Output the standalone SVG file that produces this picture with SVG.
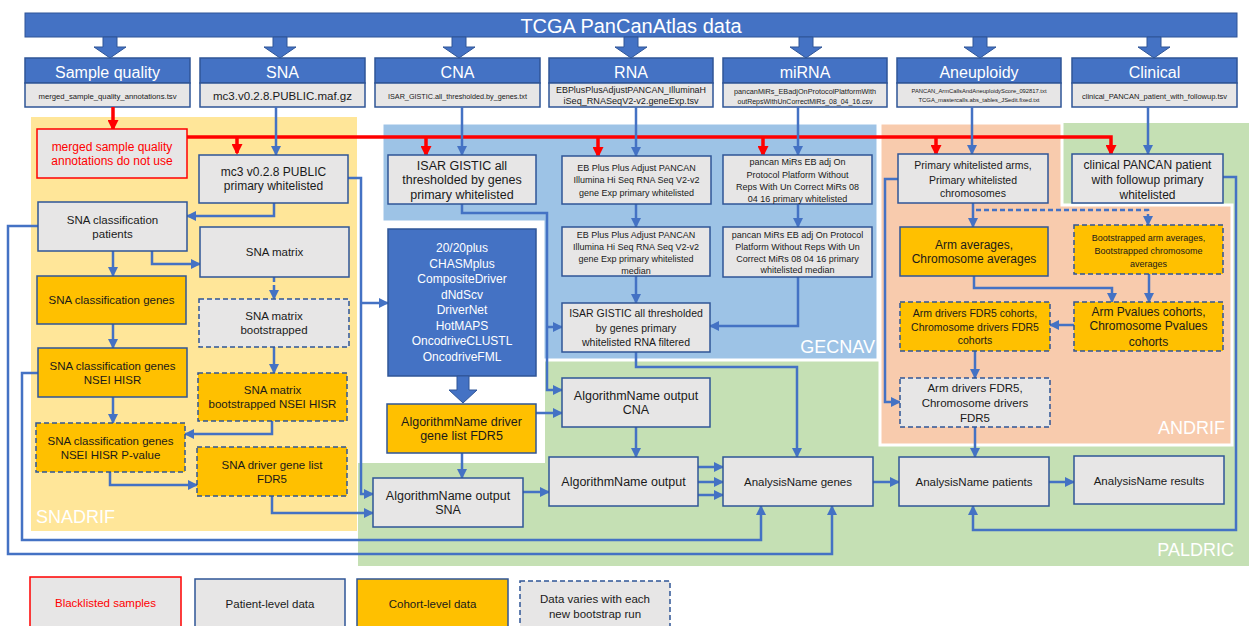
<svg xmlns="http://www.w3.org/2000/svg" width="1251" height="626" viewBox="0 0 1251 626">
<defs>
<style>
text{font-family:"Liberation Sans",Arial,sans-serif;text-anchor:middle;fill:#1a1a1a;font-size:12px}
.box{fill:#E7E6E6;stroke:#2F5597;stroke-width:1.5}
.org{fill:#FFC000;stroke:#2F5597;stroke-width:1.5}
.dash{stroke-dasharray:5,3}
.redb{fill:#E7E6E6;stroke:#FF0000;stroke-width:1.5}
.hdr{fill:#4472C4;stroke:#2F5597;stroke-width:1.5}
.c{fill:none;stroke:#4472C4;stroke-width:2.5;marker-end:url(#ab)}
.cn{fill:none;stroke:#4472C4;stroke-width:2.5}
.cr{fill:none;stroke:#FF0000;stroke-width:3.5}
.crm{fill:none;stroke:#FF0000;stroke-width:3.5;marker-end:url(#ar)}
.ht{fill:#fff;font-size:16px}
.rl{fill:#fff;font-size:18px;text-anchor:end}
.wt{fill:#fff;font-size:12px}
.rt{fill:#FF0000}
.f{font-size:7.5px;lengthAdjust:spacingAndGlyphs}
.s9{font-size:9px}
.s105{font-size:10.5px}
.s115{font-size:11.5px}
.s125{font-size:12.5px}
</style>
<marker id="ab" markerUnits="userSpaceOnUse" markerWidth="10" markerHeight="10" refX="9" refY="5" orient="auto" viewBox="0 0 10 10"><path d="M0,0 L10,5 L0,10 z" fill="#4472C4"/></marker>
<marker id="ar" markerUnits="userSpaceOnUse" markerWidth="11" markerHeight="11" refX="9" refY="5.5" orient="auto" viewBox="0 0 11 11"><path d="M0,0 L11,5.5 L0,11 z" fill="#FF0000"/></marker>
<path id="barrow" d="M-7,37 H7 V47 H16 L0,58 L-16,47 H-7 Z" fill="#4472C4" stroke="#2F5597" stroke-width="1"/>
</defs>
<rect width="1251" height="626" fill="#fff"/>

<g id="regions">
<rect id="snadrif" x="31" y="117" width="326" height="414" fill="#FFE699"/>
<rect id="paldric" x="358" y="123" width="891" height="443" fill="#C5E0B4"/>
<rect x="357" y="115" width="188" height="348" fill="#fff"/>
<path id="gecnav" d="M382,123 H878 V360 H543 V222 H382 Z" fill="#9DC3E6" stroke="#fff" stroke-width="3"/>
<path id="andrif" d="M880,123 H1062 V205 H1232 V445 H880 Z" fill="#F8CBAD" stroke="#fff" stroke-width="3"/>
<text class="rl" x="36" y="523" style="text-anchor:start">SNADRIF</text>
<text class="rl" x="875" y="353">GECNAV</text>
<text class="rl" x="1225" y="434">ANDRIF</text>
<text class="rl" x="1234" y="556">PALDRIC</text>
</g>

<g id="banner">
<rect x="25" y="13" width="1212" height="24" fill="#4472C4" stroke="#2F5597" stroke-width="1"/>
<text x="631" y="33" style="fill:#fff;font-size:20px">TCGA PanCanAtlas data</text>
<use href="#barrow" x="110"/>
<use href="#barrow" x="280"/>
<use href="#barrow" x="459"/>
<use href="#barrow" x="631"/>
<use href="#barrow" x="806"/>
<use href="#barrow" x="980"/>
<use href="#barrow" x="1154"/>
</g>

<g id="h_sample_quality">
<rect class="hdr" x="25" y="58" width="165" height="25"/>
<text class="ht" x="107.5" y="78">Sample quality</text>
<rect class="box" x="25" y="83" width="165" height="24"/>
<text class="f" x="107.5" y="99" textLength="138" lengthAdjust="spacingAndGlyphs">merged_sample_quality_annotations.tsv</text>
</g>
<g id="h_sna">
<rect class="hdr" x="200" y="58" width="165" height="25"/>
<text class="ht" x="282.5" y="78">SNA</text>
<rect class="box" x="200" y="83" width="165" height="24"/>
<text x="282.5" y="100" style="font-size:11.5px" textLength="139" lengthAdjust="spacingAndGlyphs">mc3.v0.2.8.PUBLIC.maf.gz</text>
</g>
<g id="h_cna">
<rect class="hdr" x="375" y="58" width="165" height="25"/>
<text class="ht" x="457.5" y="78">CNA</text>
<rect class="box" x="375" y="83" width="165" height="24"/>
<text class="f" x="457.5" y="99" textLength="139" lengthAdjust="spacingAndGlyphs">ISAR_GISTIC.all_thresholded.by_genes.txt</text>
</g>
<g id="h_rna">
<rect class="hdr" x="549" y="58" width="164" height="25"/>
<text class="ht" x="631" y="78">RNA</text>
<rect class="box" x="549" y="83" width="164" height="24"/>
<text x="631" y="93" style="font-size:9px" textLength="150" lengthAdjust="spacingAndGlyphs">EBPlusPlusAdjustPANCAN_IlluminaH</text>
<text x="631" y="103.5" style="font-size:9px" textLength="135" lengthAdjust="spacingAndGlyphs">iSeq_RNASeqV2-v2.geneExp.tsv</text>
</g>
<g id="h_mirna">
<rect class="hdr" x="723" y="58" width="164" height="25"/>
<text class="ht" x="805" y="78">miRNA</text>
<rect class="box" x="723" y="83" width="164" height="24"/>
<text class="f" x="805" y="93.5" textLength="142" lengthAdjust="spacingAndGlyphs">pancanMiRs_EBadjOnProtocolPlatformWith</text>
<text class="f" x="805" y="103.5" textLength="135" lengthAdjust="spacingAndGlyphs">outRepsWithUnCorrectMiRs_08_04_16.csv</text>
</g>
<g id="h_aneuploidy">
<rect class="hdr" x="897" y="58" width="164" height="25"/>
<text class="ht" x="979" y="78">Aneuploidy</text>
<rect class="box" x="897" y="83" width="164" height="24"/>
<text x="979" y="93" style="font-size:6px" textLength="135" lengthAdjust="spacingAndGlyphs">PANCAN_ArmCallsAndAneuploidyScore_092817.txt</text>
<text x="979" y="101.5" style="font-size:6px" textLength="121" lengthAdjust="spacingAndGlyphs">TCGA_mastercalls.abs_tables_JSedit.fixed.txt</text>
</g>
<g id="h_clinical">
<rect class="hdr" x="1072" y="58" width="165" height="25"/>
<text class="ht" x="1154.5" y="78">Clinical</text>
<rect class="box" x="1072" y="83" width="165" height="24"/>
<text x="1154.5" y="99" style="font-size:8px" textLength="145" lengthAdjust="spacingAndGlyphs">clinical_PANCAN_patient_with_followup.tsv</text>
</g>

<g id="connectors">
<path class="crm" d="M113,107 V129"/>
<path class="crm" d="M187,137 H1111 V154"/>
<path class="crm" d="M237,137 V153"/>
<path class="crm" d="M426,137 V155"/>
<path class="crm" d="M598,137 V156"/>
<path class="crm" d="M763,137 V155"/>
<path class="crm" d="M936,137 V154"/>
<path class="c" d="M276,107 V155"/>
<path class="c" d="M462,107 V155"/>
<path class="c" d="M636,107 V156"/>
<path class="c" d="M798,107 V155"/>
<path class="c" d="M972,107 V154"/>
<path class="c" d="M1148,107 V154"/>
<path class="c" d="M274,203 V216 H187"/>
<path class="c" d="M152,251 V264 H200"/>
<path class="c" d="M113,251 V276"/>
<path class="c dash" d="M274,277 V299" style="stroke-dasharray:5,3"/>
<path class="c" d="M113,324 V348"/>
<path class="c" d="M274,347 V373"/>
<path class="c" d="M113,397 V423"/>
<path class="c" d="M272,421 V434 H185"/>
<path class="c" d="M110,472 V485 H197"/>
<path class="c" d="M272,496 V513 H373"/>
<path class="c" d="M348,178 H361 V494 H373"/>
<path class="c" d="M361,303 H388"/>
<path class="c" d="M38,226 H8 V554 H832 V506"/>
<path class="c" d="M38,373 H22 V540 H761 V506"/>
<path class="c" d="M462,453 V478"/>
<path class="c" d="M536,413 H562"/>
<path class="c" d="M462,204 V213 H547 V390 H562"/>
<path class="c" d="M547,327 H562"/>
<path class="c" d="M636,204 V227"/>
<path class="c" d="M636,276 V303"/>
<path class="c" d="M798,204 V227"/>
<path class="c" d="M798,277 V326 H710"/>
<path class="c" d="M636,352 V367 H797 V457"/>
<path class="c" d="M636,427 V457"/>
<path class="c" d="M523,492 H549"/>
<path class="c" d="M698,467 H723"/>
<path class="c" d="M698,482 H723"/>
<path class="c" d="M698,495 H723"/>
<path class="c" d="M873,482 H899"/>
<path class="c" d="M1049,482 H1074"/>
<path class="c" d="M973,203 V227"/>
<path class="c" d="M976,210 H1148 V225" style="stroke-dasharray:5,3"/>
<path class="c" d="M974,276 V288 H1112 V302"/>
<path class="c" d="M1149,274 V302"/>
<path class="c" d="M1074,325 H1050"/>
<path class="c" d="M975,351 V378"/>
<path class="c" d="M898,179 H885 V402 H900"/>
<path class="c" d="M975,427 V457"/>
<path class="c" d="M1223,177 H1236 V530 H973 V506"/>
</g>

<g id="n_blacklist">
<rect class="redb" x="37" y="129" width="150" height="49"/>
<text class="rt" x="112" y="150.5">merged sample quality</text>
<text class="rt" x="112" y="164.5">annotations do not use</text>
</g>
<g id="n_mc3">
<rect class="box" x="199" y="155" width="149" height="48"/>
<text x="273.5" y="176">mc3 v0.2.8 PUBLIC</text>
<text x="273.5" y="190">primary whitelisted</text>
</g>
<g id="n_sna_class_patients">
<rect class="box" x="38" y="202" width="149" height="49"/>
<text class="s115" x="112.5" y="223.5">SNA classification</text>
<text class="s115" x="112.5" y="237.5">patients</text>
</g>
<g id="n_sna_matrix">
<rect class="box" x="200" y="227" width="149" height="50"/>
<text class="s115" x="274.5" y="256">SNA matrix</text>
</g>
<g id="n_sna_class_genes">
<rect class="org" x="37" y="276" width="149" height="48"/>
<text class="s115" x="111.5" y="304">SNA classification genes</text>
</g>
<g id="n_sna_matrix_boot">
<rect class="box dash" x="199" y="299" width="150" height="48"/>
<text class="s115" x="274" y="320">SNA matrix</text>
<text class="s115" x="274" y="334">bootstrapped</text>
</g>
<g id="n_sna_class_nsei">
<rect class="org" x="38" y="348" width="149" height="49"/>
<text class="s115" x="112.5" y="369.5">SNA classification genes</text>
<text class="s115" x="112.5" y="383.5">NSEI HISR</text>
</g>
<g id="n_sna_matrix_boot_nsei">
<rect class="org dash" x="198" y="373" width="149" height="48"/>
<text class="s115" x="272.5" y="394">SNA matrix</text>
<text class="s115" x="272.5" y="408">bootstrapped NSEI HISR</text>
</g>
<g id="n_sna_pvalue">
<rect class="org dash" x="36" y="423" width="149" height="49"/>
<text class="s115" x="110.5" y="444.5">SNA classification genes</text>
<text class="s115" x="110.5" y="458.5">NSEI HISR P-value</text>
</g>
<g id="n_sna_driver">
<rect class="org dash" x="197" y="447" width="150" height="49"/>
<text class="s115" x="272" y="468.5">SNA driver gene list</text>
<text class="s115" x="272" y="482.5">FDR5</text>
</g>

<g id="n_isar">
<rect class="box" x="388" y="155" width="148" height="49"/>
<text class="s125" x="462" y="169.5">ISAR GISTIC all</text>
<text class="s125" x="462" y="184">thresholded by genes</text>
<text class="s125" x="462" y="198.5">primary whitelisted</text>
</g>
<g id="n_alg_list">
<rect x="388" y="229" width="148" height="147" fill="#4472C4" stroke="#2F5597" stroke-width="1.5"/>
<text class="wt" x="462" y="252">20/20plus</text>
<text class="wt" x="462" y="267.5">CHASMplus</text>
<text class="wt" x="462" y="283">CompositeDriver</text>
<text class="wt" x="462" y="298.5">dNdScv</text>
<text class="wt" x="462" y="314">DriverNet</text>
<text class="wt" x="462" y="329.5">HotMAPS</text>
<text class="wt" x="462" y="345">OncodriveCLUSTL</text>
<text class="wt" x="462" y="360.5">OncodriveFML</text>
<path d="M457,376 H469 V390 H477 L463,403 L449,390 H457 Z" fill="#4472C4" stroke="#2F5597" stroke-width="1"/>
</g>
<g id="n_alg_fdr5">
<rect class="org" x="387" y="404" width="149" height="49"/>
<text class="s125" x="461.5" y="425.5">AlgorithmName driver</text>
<text class="s125" x="461.5" y="439.5">gene list FDR5</text>
</g>
<g id="n_alg_sna">
<rect class="box" x="373" y="478" width="150" height="49"/>
<text class="s125" x="448" y="499.5">AlgorithmName output</text>
<text class="s125" x="448" y="513.5">SNA</text>
</g>
<g id="n_eb">
<rect class="box" x="562" y="156" width="149" height="48"/>
<text class="s9" x="636.5" y="170.5">EB Plus Plus Adjust PANCAN</text>
<text class="s9" x="636.5" y="183">Illumina Hi Seq RNA Seq V2-v2</text>
<text class="s9" x="636.5" y="195.5">gene Exp primary whitelisted</text>
</g>
<g id="n_eb_median">
<rect class="box" x="562" y="227" width="148" height="49"/>
<text class="s9" x="636" y="237.5">EB Plus Plus Adjust PANCAN</text>
<text class="s9" x="636" y="250">Illumina Hi Seq RNA Seq V2-v2</text>
<text class="s9" x="636" y="262">gene Exp primary whitelisted</text>
<text class="s9" x="636" y="274">median</text>
</g>
<g id="n_isar_rna">
<rect class="box" x="562" y="303" width="148" height="49"/>
<text class="s105" x="636" y="317">ISAR GISTIC all thresholded</text>
<text class="s105" x="636" y="331.5">by genes primary</text>
<text class="s105" x="636" y="346">whitelisted RNA filtered</text>
</g>
<g id="n_alg_cna">
<rect class="box" x="562" y="378" width="148" height="49"/>
<text class="s125" x="636" y="399.5">AlgorithmName output</text>
<text class="s125" x="636" y="413.5">CNA</text>
</g>
<g id="n_alg_out">
<rect class="box" x="549" y="457" width="149" height="49"/>
<text class="s125" x="623.5" y="486">AlgorithmName output</text>
</g>
<g id="n_mir">
<rect class="box" x="723" y="155" width="149" height="49"/>
<text class="s9" x="797.5" y="165">pancan MiRs EB adj On</text>
<text class="s9" x="797.5" y="177.5">Protocol Platform Without</text>
<text class="s9" x="797.5" y="190">Reps With Un Correct MiRs 08</text>
<text class="s9" x="797.5" y="201.5">04 16 primary whitelisted</text>
</g>
<g id="n_mir_median">
<rect class="box" x="723" y="227" width="149" height="50"/>
<text class="s9" x="797.5" y="238">pancan MiRs EB adj On Protocol</text>
<text class="s9" x="797.5" y="250">Platform Without Reps With Un</text>
<text class="s9" x="797.5" y="261.5">Correct MiRs 08 04 16 primary</text>
<text class="s9" x="797.5" y="273">whitelisted median</text>
</g>
<g id="n_analysis_genes">
<rect class="box" x="723" y="457" width="150" height="49"/>
<text class="s115" x="798" y="485.5">AnalysisName genes</text>
</g>

<g id="n_arms">
<rect class="box" x="898" y="154" width="150" height="49"/>
<text class="s105" x="973" y="169">Primary whitelisted arms,</text>
<text class="s105" x="973" y="183.5">Primary whitelisted</text>
<text class="s105" x="973" y="197">chromosomes</text>
</g>
<g id="n_clinical">
<rect class="box" x="1072" y="154" width="151" height="49"/>
<text x="1147.5" y="169">clinical PANCAN patient</text>
<text x="1147.5" y="183.5">with followup primary</text>
<text x="1147.5" y="198.5">whitelisted</text>
</g>
<g id="n_arm_avg">
<rect class="org" x="900" y="227" width="148" height="49"/>
<text x="974" y="249">Arm averages,</text>
<text x="974" y="263">Chromosome averages</text>
</g>
<g id="n_boot_avg">
<rect class="org dash" x="1074" y="225" width="149" height="49"/>
<text class="s9" x="1148.5" y="241">Bootstrapped arm averages,</text>
<text class="s9" x="1148.5" y="254">Bootstrapped chromosome</text>
<text class="s9" x="1148.5" y="267">averages</text>
</g>
<g id="n_arm_pval">
<rect class="org dash" x="1074" y="302" width="149" height="49"/>
<text x="1148.5" y="315.5">Arm Pvalues cohorts,</text>
<text x="1148.5" y="330">Chromosome Pvalues</text>
<text x="1148.5" y="345.5">cohorts</text>
</g>
<g id="n_arm_drv_coh">
<rect class="org dash" x="900" y="302" width="150" height="49"/>
<text class="s105" x="975" y="316.5">Arm drivers FDR5 cohorts,</text>
<text class="s105" x="975" y="330.5">Chromosome drivers FDR5</text>
<text class="s105" x="975" y="344">cohorts</text>
</g>
<g id="n_arm_drv">
<rect class="box dash" x="900" y="378" width="150" height="49"/>
<text class="s115" x="975" y="392">Arm drivers FDR5,</text>
<text class="s115" x="975" y="407">Chromosome drivers</text>
<text class="s115" x="975" y="422">FDR5</text>
</g>
<g id="n_patients">
<rect class="box" x="899" y="457" width="150" height="49"/>
<text class="s115" x="974" y="486">AnalysisName patients</text>
</g>
<g id="n_results">
<rect class="box" x="1074" y="456" width="150" height="48"/>
<text class="s115" x="1149" y="484.5">AnalysisName results</text>
</g>

<g id="legend">
<rect class="redb" x="30" y="577" width="151" height="63"/>
<text class="s115 rt" x="105.5" y="607">Blacklisted samples</text>
<rect class="box" x="195" y="579" width="150" height="61"/>
<text class="s115" x="270" y="607.5">Patient-level data</text>
<rect class="org" x="357" y="579" width="151" height="61"/>
<text class="s115" x="432.5" y="608">Cohort-level data</text>
<rect class="box dash" x="520" y="581" width="150" height="59"/>
<text class="s115" x="595" y="603">Data varies with each</text>
<text class="s115" x="595" y="618">new bootstrap run</text>
</g>
</svg>
